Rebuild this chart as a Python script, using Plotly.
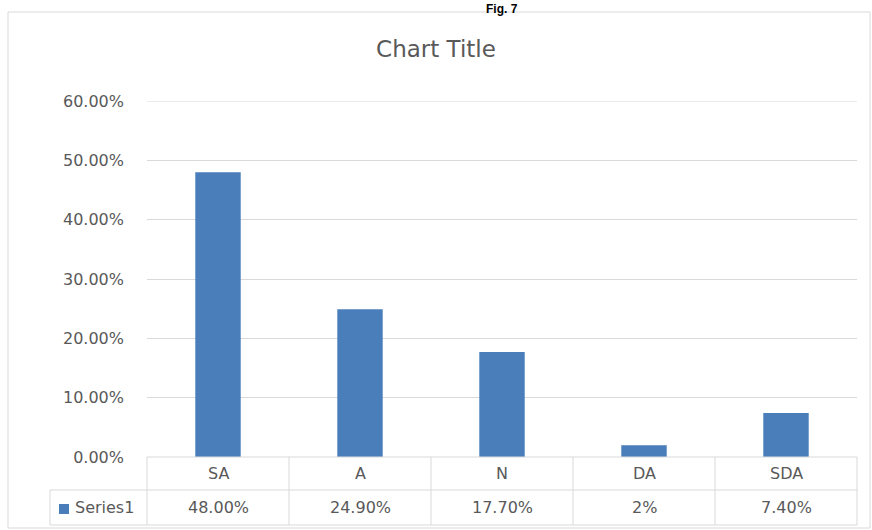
import plotly.graph_objects as go

categories = ["SA", "A", "N", "DA", "SDA"]
values = [48.0, 24.9, 17.7, 2.0, 7.4]
value_labels = ["48.00%", "24.90%", "17.70%", "2%", "7.40%"]
series_name = "Series1"
tick_vals = [0, 10, 20, 30, 40, 50, 60]
tick_text = ["0.00%", "10.00%", "20.00%", "30.00%", "40.00%", "50.00%", "60.00%"]

W, H = 872, 530
L, R, T, B = 147, 15, 101, 73
pw, ph = W - L - R, H - T - B

def px_x(p):  # pixel x -> paper
    return (p - L) / pw

def px_y(p):  # pixel y (from top) -> paper
    return (H - B - p) / ph

bar_color = "#4A7EBB"
grid_color = "#D9D9D9"
text_color = "#595959"
font_family = "DejaVu Sans, sans-serif"

fig = go.Figure()
fig.add_trace(go.Bar(
    x=categories, y=values, marker_color=bar_color, width=0.32,
    marker_line_width=0, name=series_name, showlegend=False,
))

shapes = []
annotations = []
n = len(categories)

# outer chart border
shapes.append(dict(type="rect", xref="paper", yref="paper",
                   x0=px_x(8), x1=px_x(870), y0=px_y(528), y1=px_y(12),
                   line=dict(color="#D9D9D9", width=1), fillcolor="rgba(0,0,0,0)"))

# top gridline (60%)
shapes.append(dict(type="line", xref="paper", yref="y", x0=0, x1=1,
                   y0=tick_vals[-1], y1=tick_vals[-1],
                   line=dict(color=grid_color, width=1)))

# data table
row1_top, row1_bot, row2_bot = px_y(457), px_y(490), px_y(525)
left_col = px_x(50)
line_style = dict(color=grid_color, width=1)
shapes.append(dict(type="line", xref="paper", yref="paper", x0=0, x1=1,
                   y0=row1_top, y1=row1_top, line=line_style))
shapes.append(dict(type="line", xref="paper", yref="paper", x0=left_col, x1=1,
                   y0=row1_bot, y1=row1_bot, line=line_style))
shapes.append(dict(type="line", xref="paper", yref="paper", x0=left_col, x1=1,
                   y0=row2_bot, y1=row2_bot, line=line_style))
shapes.append(dict(type="line", xref="paper", yref="paper", x0=left_col, x1=left_col,
                   y0=row2_bot, y1=row1_bot, line=line_style))
for k in range(n + 1):
    xk = k / n
    shapes.append(dict(type="line", xref="paper", yref="paper", x0=xk, x1=xk,
                       y0=row2_bot, y1=row1_top, line=line_style))

tfont = dict(size=16, color=text_color, family=font_family)
for i, (c, v) in enumerate(zip(categories, value_labels)):
    xc = (i + 0.5) / n
    annotations.append(dict(x=xc, y=(row1_top + row1_bot) / 2, xref="paper", yref="paper",
                            text=c, showarrow=False, xanchor="center", yanchor="middle",
                            font=tfont))
    annotations.append(dict(x=xc, y=(row1_bot + row2_bot) / 2, xref="paper", yref="paper",
                            text=v, showarrow=False, xanchor="center", yanchor="middle",
                            font=tfont))

# legend key + series name
shapes.append(dict(type="rect", xref="paper", yref="paper",
                   x0=px_x(59), x1=px_x(69), y0=px_y(514), y1=px_y(504),
                   fillcolor=bar_color, line=dict(width=0)))
annotations.append(dict(x=px_x(73), y=(row1_bot + row2_bot) / 2, xref="paper", yref="paper",
                        text=series_name, showarrow=False, xanchor="left", yanchor="middle",
                        font=tfont))

# fig label
annotations.append(dict(x=0.5, xref="paper", y=px_y(0), yref="paper", text="<b>Fig. 7</b>",
                        showarrow=False, yanchor="top", xanchor="center",
                        font=dict(size=12, color="#000000", family="Liberation Sans, sans-serif")))

fig.update_layout(
    width=W, height=H,
    margin=dict(l=L, r=R, t=T, b=B, pad=0),
    paper_bgcolor="white", plot_bgcolor="white",
    title=dict(text="Chart Title", x=0.5, xanchor="center", y=1 - 49 / H, yanchor="middle",
               font=dict(size=23, color=text_color, family=font_family)),
    xaxis=dict(showticklabels=False, showgrid=False, zeroline=False, showline=False,
               ticks="", range=[-0.5, n - 0.5], fixedrange=True),
    yaxis=dict(range=[0, 60], tickvals=tick_vals, ticktext=tick_text,
               showgrid=True, gridcolor=grid_color, gridwidth=1, zeroline=False,
               showline=False, ticks="", ticklabelstandoff=22,
               tickfont=dict(size=16, color=text_color, family=font_family)),
    shapes=shapes, annotations=annotations, bargap=0.68,
)

fig.write_html("out.html")
